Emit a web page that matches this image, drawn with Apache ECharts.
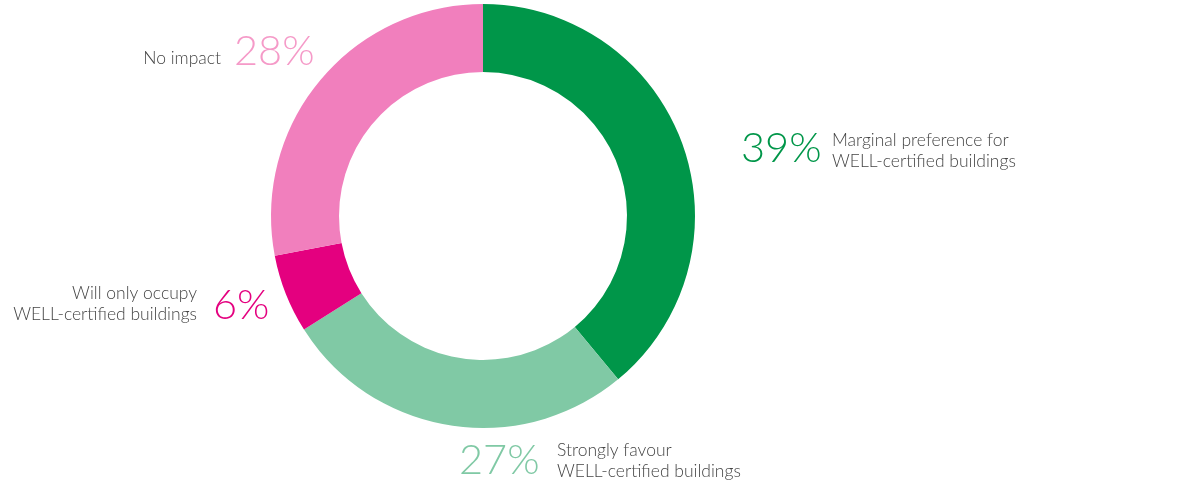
<!DOCTYPE html>
<html>
<head>
<meta charset="utf-8">
<script src="https://cdn.jsdelivr.net/npm/echarts@6/dist/echarts.min.js"></script>
<style>html,body{margin:0;padding:0;background:#fff}#c{width:1200px;height:487px}</style>
</head>
<body>
<div id="c"></div>
<script>
// Data
const categories = [
  'Marginal preference for\nWELL-certified buildings',
  'Strongly favour\nWELL-certified buildings',
  'Will only occupy\nWELL-certified buildings',
  'No impact'
];
const values = [39, 27, 6, 28];
const colors = ['#009649', '#80c9a5', '#e4007f', '#f17fbd'];
const pctColors = ['#009649', '#80c9a5', '#e4007f', '#f59ac8'];

// Label layout (positions only)
const labelLayout = [
  { px: 741, py: 149, pAlign: 'left', dx: 832, dy: 151, dAlign: 'left' },
  { px: 459, py: 461, pAlign: 'left', dx: 557, dy: 461, dAlign: 'left' },
  { px: 213, py: 306, pAlign: 'left', dx: 197, dy: 304, dAlign: 'right' },
  { px: 234, py: 52, pAlign: 'left', dx: 221, dy: 58, dAlign: 'right' }
];

const FONT = 'Lato, "Open Sans", sans-serif';
const chart = echarts.init(document.getElementById('c'), null, { renderer: 'canvas' });

const graphics = [];
values.forEach((v, i) => {
  const L = labelLayout[i];
  graphics.push({
    type: 'text', x: L.px, y: L.py,
    style: { text: v + '%', fill: pctColors[i], font: '300 41.5px ' + FONT, textAlign: L.pAlign, textVerticalAlign: 'middle' }
  });
  graphics.push({
    type: 'text', x: L.dx, y: L.dy,
    style: { text: categories[i], fill: '#454545', font: '300 17.5px ' + FONT, lineHeight: 21, textAlign: L.dAlign, textVerticalAlign: 'middle' }
  });
});

chart.setOption({
  animation: false,
  series: [{
    type: 'pie',
    center: [483, 216],
    radius: [144, 212],
    startAngle: 90,
    clockwise: true,
    silent: true,
    label: { show: false },
    labelLine: { show: false },
    itemStyle: { borderWidth: 0 },
    data: values.map((v, i) => ({ value: v, name: categories[i], itemStyle: { color: colors[i] } }))
  }],
  graphic: graphics
});
</script>
</body>
</html>
